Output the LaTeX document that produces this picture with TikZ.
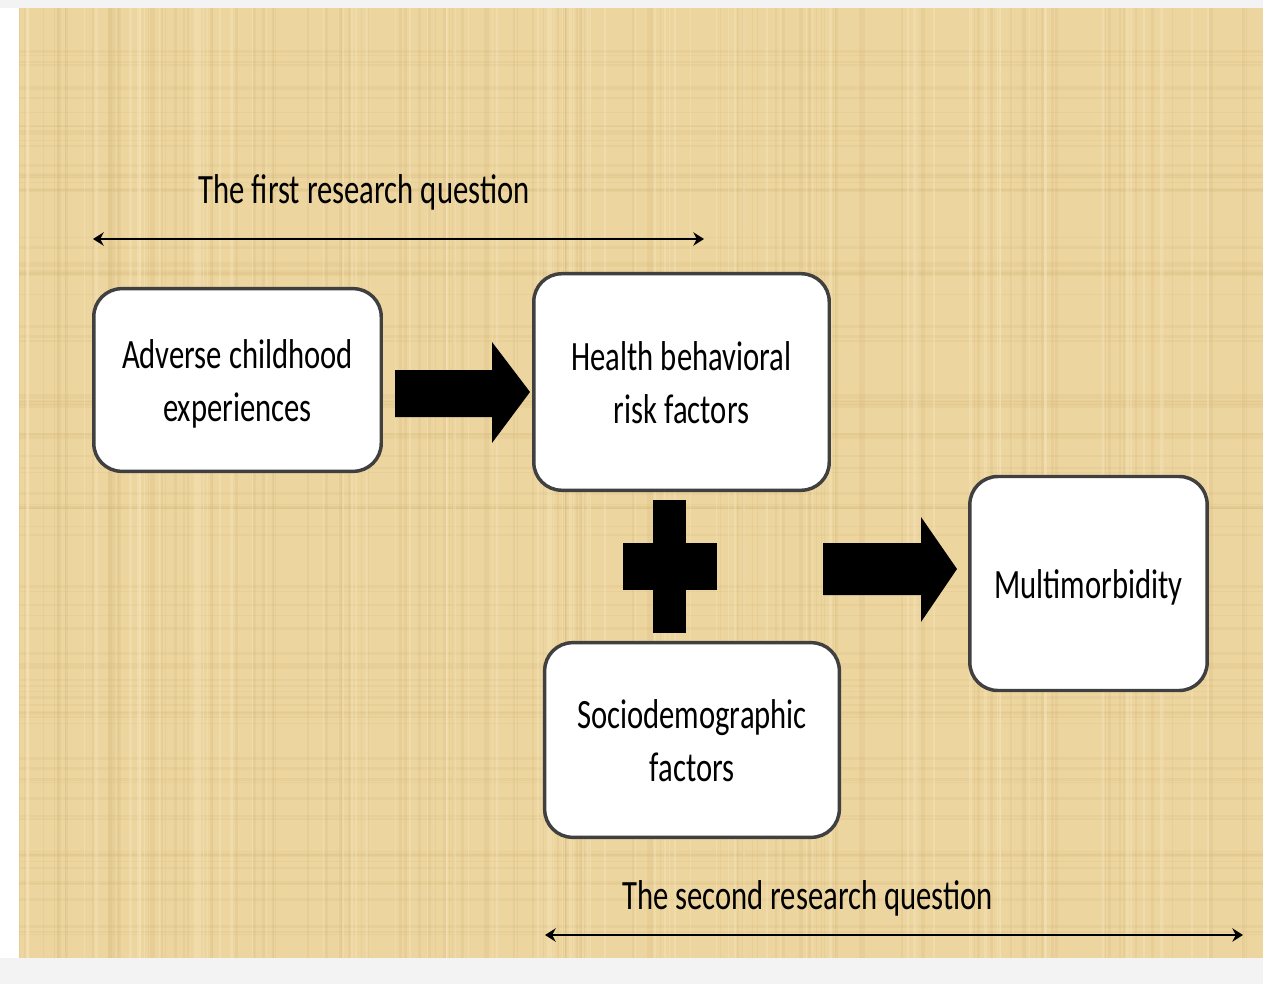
\documentclass[tikz,border=0pt]{standalone}
\usepackage{fontspec}
\setmainfont{Carlito}
\usetikzlibrary{arrows.meta}
\definecolor{paper}{RGB}{236,213,158}
\definecolor{paperdark}{RGB}{205,175,110}
\definecolor{paperlight}{RGB}{248,234,195}
\definecolor{boxedge}{RGB}{64,64,64}
\definecolor{marginc}{RGB}{243,243,243}
\newcommand{\tallbox}[1]{\raisebox{0pt}[\dimexpr\height+6pt\relax][\depth]{\scalebox{1}[1.36]{\begin{tabular}{@{}c@{}}#1\end{tabular}}}}
\newcommand{\tallline}[1]{\scalebox{1}[1.36]{#1}}
\begin{document}
\begin{tikzpicture}[x=0.75pt,y=-0.75pt,
  every node/.style={inner sep=0pt,outer sep=0pt},
  rbox/.style={draw=boxedge,line width=2.6pt,fill=white,rounded corners=21pt,
    font=\fontsize{23}{29.2}\selectfont},
  qlabel/.style={anchor=base,font=\fontsize{23}{29.2}\selectfont},
  dbl/.style={{Stealth[length=8pt,width=10pt]}-{Stealth[length=8pt,width=10pt]},line width=1.8pt},
  blockshape/.style={fill=black,draw=none}]
\useasboundingbox (0,0) rectangle (1263,984);
% background
\fill[white] (0,0) rectangle (1263,984);
\fill[marginc] (0,0) rectangle (1263,8);
\fill[marginc] (0,958) rectangle (1263,984);
\fill[paper] (19,8) rectangle (1263,958);
\pgfmathsetseed{7}
\begin{scope}
  \clip (19,8) rectangle (1263,958);
  \foreach \i in {1,...,110}{
    \pgfmathsetmacro{\xx}{19+1244*rnd}
    \pgfmathsetmacro{\ww}{0.4+2.2*rnd}
    \draw[paperdark,opacity=0.16,line width=\ww pt] (\xx,8) -- (\xx,958);
  }
  \foreach \i in {1,...,90}{
    \pgfmathsetmacro{\yy}{8+950*rnd}
    \pgfmathsetmacro{\ww}{0.4+2.2*rnd}
    \draw[paperdark,opacity=0.14,line width=\ww pt] (19,\yy) -- (1263,\yy);
  }
  \foreach \i in {1,...,80}{
    \pgfmathsetmacro{\xx}{19+1244*rnd}
    \pgfmathsetmacro{\ww}{0.4+2.5*rnd}
    \draw[paperlight,opacity=0.35,line width=\ww pt] (\xx,8) -- (\xx,958);
  }
\end{scope}
% boxes
\node[rbox,minimum width=215.6pt,minimum height=137pt] (ace) at (237.5,380)
  {\tallbox{Adverse childhood\\experiences}};
\node[rbox,minimum width=221.6pt,minimum height=162.4pt] (hbrf) at (681.5,382)
  {\tallbox{Health behavioral\\risk factors}};
\node[rbox,minimum width=221pt,minimum height=146pt] (socio) at (692,740)
  {\tallbox{Sociodemographic\\factors}};
\node[rbox,minimum width=178pt,minimum height=160.5pt] (multi) at (1088.5,583.5)
  {\tallbox{Multimorbidity}};
% block arrows and plus
\fill[blockshape] (395,370) -- (492,370) -- (492,342) -- (530,392) -- (492,443)
  -- (492,417) -- (395,417) -- cycle;
\fill[blockshape] (653,500) rectangle (686,633);
\fill[blockshape] (623,543) rectangle (717,590);
\fill[blockshape] (823,543) -- (921,543) -- (921,517) -- (957,569) -- (921,622)
  -- (921,595) -- (823,595) -- cycle;
% research questions
\node[qlabel] (q1) at (364,204) {\tallline{The first research question}};
\coordinate (q1a) at (93,239);
\coordinate (q1b) at (704,239);
\draw[dbl] (q1a) -- (q1b);
\node[qlabel] (q2) at (807.5,909) {\tallline{The second research question}};
\coordinate (q2a) at (545,935);
\coordinate (q2b) at (1243,935);
\draw[dbl] (q2a) -- (q2b);
\end{tikzpicture}
\end{document}
